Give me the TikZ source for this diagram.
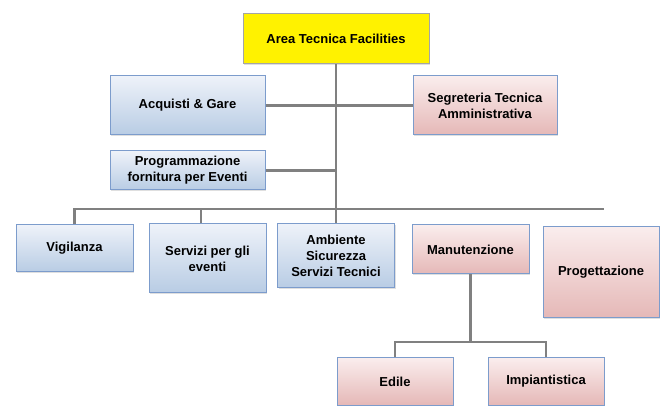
\documentclass[tikz,border=0pt]{standalone}
\usepackage{fontspec}
\setmainfont{Liberation Sans}
\usetikzlibrary{shadows}
\definecolor{mblueT}{RGB}{238,242,249}
\definecolor{mblueB}{RGB}{184,204,228}
\definecolor{mpinkT}{RGB}{250,237,237}
\definecolor{mpinkB}{RGB}{229,184,183}
\definecolor{medge}{RGB}{124,156,204}
\definecolor{mhead}{RGB}{165,165,165}
\definecolor{mline}{RGB}{128,128,128}
\tikzset{unit/.style = {draw = medge, line width = 1pt, align = center, inner sep = 2,
    font = \fontsize{13}{16}\selectfont\bfseries,
    drop shadow = {opacity = 0.25, shadow xshift = 1pt, shadow yshift = -1.5pt}}}
\tikzset{blu/.style = {unit, top color = mblueT, bottom color = mblueB}}
\tikzset{pink/.style = {unit, top color = mpinkT, bottom color = mpinkB}}
\tikzset{conn/.style = {draw = mline, line width = 2.4pt}}

\begin{document}
\begin{tikzpicture}[x = 1pt, y = -1pt]
  \useasboundingbox (0, 0) rectangle (662, 406);

  % connectors
  \coordinate (busend) at (604, 209);
  \coordinate (fork) at (470.5, 342);

  \node [unit, draw = mhead, fill = yellow, minimum width = 186, minimum height = 50] (area) at (336, 39) {Area Tecnica Facilities};
  \node [blu, minimum width = 155, minimum height = 59] (acquisti) at (187.5, 105.5) {Acquisti \& Gare};
  \node [pink, minimum width = 144, minimum height = 59] (segreteria) at (485, 105.5) {Segreteria Tecnica\\Amministrativa};
  \node [blu, minimum width = 155, minimum height = 39] (programma) at (187.5, 170.5) {Programmazione\\fornitura per Eventi};

  \node [blu, minimum width = 117, minimum height = 47] (vigilanza) at (74.5, 248.5) {Vigilanza};
  \node [blu, minimum width = 117, minimum height = 69] (servizi) at (207.5, 258.5) {Servizi per gli\\eventi};
  \node [blu, minimum width = 117, minimum height = 64] (ambiente) at (336, 256) {Ambiente\\Sicurezza\\Servizi Tecnici};
  \node [pink, minimum width = 117, minimum height = 49] (manutenzione) at (470.5, 249.5) {Manutenzione};
  \node [pink, minimum width = 116, minimum height = 91] (progettazione) at (601, 272.5) {Progettazione};
  \node [pink, minimum width = 116, minimum height = 47] (edile) at (395, 381.5) {Edile};
  \node [pink, minimum width = 116, minimum height = 47] (impianti) at (546, 381.5) {Impiantistica};

  \draw [conn] (area.south) -- (ambiente.north);
  \draw [conn] (acquisti.east) -- (segreteria.west);
  \draw [conn] (programma.east) -- (programma.east -| area.south);
  \draw [conn] (vigilanza.north) |- (busend);
  \draw [conn] ([xshift = -6.5pt]servizi.north) -- ([xshift = -6.5pt]servizi.north |- busend);
  \draw [conn] (manutenzione.south) -- (fork);
  \draw [conn] (edile.north) |- (fork) -| (impianti.north);
\end{tikzpicture}
\end{document}
